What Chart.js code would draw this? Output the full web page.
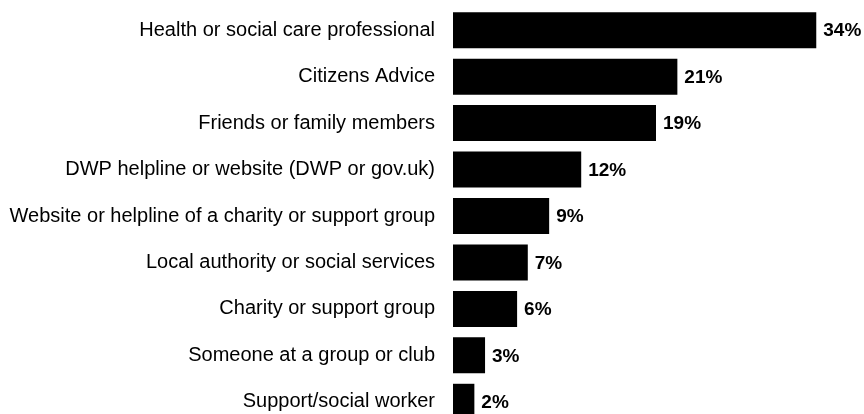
<!DOCTYPE html>
<html>
<head>
<meta charset="utf-8">
<script src="https://cdn.jsdelivr.net/npm/chart.js@4"></script>
<style>
  html, body { margin: 0; padding: 0; background: #fff; overflow: hidden; }
  canvas { display: block; }
</style>
</head>
<body>
<canvas id="sourcesChart" width="864" height="425"></canvas>
<script>
const sources = [
   "Health or social care professional",
   "Citizens Advice",
   "Friends or family members",
   "DWP helpline or website (DWP or gov.uk)",
   "Website or helpline of a charity or support group",
   "Local authority or social services",
   "Charity or support group",
   "Someone at a group or club",
   "Support/social worker",
]
const shares = [34, 21, 19, 12, 9, 7, 6, 3, 2]

// write the percentage just past the end of each bar
const valueLabels = {
   id: "valueLabels",
   afterDatasetsDraw(chart) {
      const ctx = chart.ctx
      const meta = chart.getDatasetMeta(0)
      ctx.save()
      ctx.font = "bold 19px 'Liberation Sans', Arial, sans-serif"
      ctx.fillStyle = "#000"
      ctx.textAlign = "left"
      ctx.textBaseline = "middle"
      meta.data.forEach((bar, i) => {
         ctx.fillText(shares[i] + "%", bar.x + 7, bar.y + 1)
      })
      ctx.restore()
   },
}

const ctx = document.getElementById("sourcesChart").getContext("2d")
new Chart(ctx, {
   type: "bar",
   data: {
      labels: sources,
      datasets: [
         {
            data: shares,
            backgroundColor: "#000",
            borderWidth: 0,
            barPercentage: 0.775,
            categoryPercentage: 1,
         },
      ],
   },
   options: {
      indexAxis: "y",
      responsive: false,
      animation: false,
      layout: { padding: { top: 7, right: 5, bottom: 0, left: 0 } },
      plugins: {
         legend: { display: false },
         tooltip: { enabled: false },
      },
      scales: {
         x: {
            display: false,
            min: 0,
            max: 38,
         },
         y: {
            grid: { display: false },
            border: { display: false },
            afterFit: scale => {
               scale.width = 453
               // no extra room above/below for the outer labels
               scale.paddingTop = 0
               scale.paddingBottom = 0
            },
            ticks: {
               padding: 10,
               color: "#000",
               font: { family: "'Liberation Sans', Arial, sans-serif", size: 20 },
            },
         },
      },
   },
   plugins: [valueLabels],
})
</script>
</body>
</html>
